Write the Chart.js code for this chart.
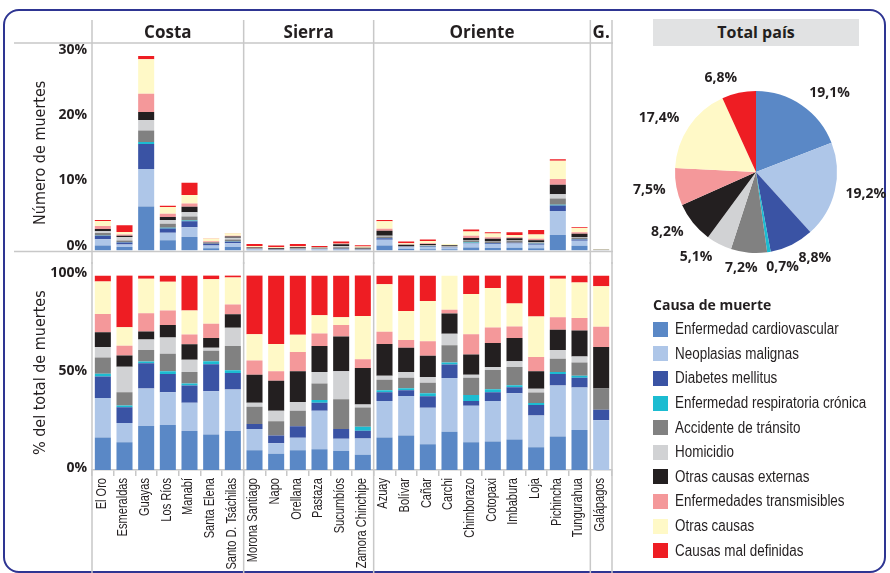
<!DOCTYPE html>
<html>
<head>
<meta charset="utf-8">
<script src="https://cdn.jsdelivr.net/npm/chart.js@4.4.1/dist/chart.umd.min.js"></script>
<style>
  html, body { margin: 0; padding: 0; background: #fff; }
  body { width: 890px; height: 573px; position: relative; overflow: hidden; font-family: 'Open Sans', sans-serif; color: #231f20; }
  #frame { position: absolute; left: 3px; top: 9px; width: 879px; height: 560px; border: 2px solid #2e3592; border-radius: 16px; }
  #topWrap { position: absolute; left: 10px; top: 14px; width: 610px; height: 250px; }
  #botWrap { position: absolute; left: 10px; top: 262px; width: 610px; height: 311px; }
  #pieWrap { position: absolute; left: 625px; top: 50px; width: 265px; height: 244px; }
  #pieHead { position: absolute; left: 653px; top: 19px; width: 206px; height: 27px; background: #e1e2e3; font-weight: 700; font-size: 16px; text-align: center; line-height: 27px; }
  #legend { position: absolute; left: 653px; top: 293px; width: 235px; }
  #legend .ttl { height: 24px; line-height: 24px; font-weight: 700; font-size: 14px; }
  #legend .it { height: 24.6px; display: flex; align-items: center; white-space: nowrap; }
  #legend .sw { width: 15px; height: 15px; margin-right: 7px; flex: none; }
  #legend .tx { display: inline-block; font-family: 'Liberation Sans', Arial, sans-serif; font-size: 16px; transform: scaleX(0.84); transform-origin: left center; }
</style>
</head>
<body>
<div id="frame"></div>
<div id="topWrap"><canvas id="topChart"></canvas></div>
<div id="botWrap"><canvas id="botChart"></canvas></div>
<div id="pieHead">Total país</div>
<div id="pieWrap"><canvas id="pieChart"></canvas></div>
<div id="legend"></div>
<script>
// ---------- DATA ----------
const categories = ['El Oro','Esmeraldas','Guayas','Los Ríos','Manabí','Santa Elena','Santo D. Tsáchilas',
  'Morona Santiago','Napo','Orellana','Pastaza','Sucumbíos','Zamora Chinchipe',
  'Azuay','Bolívar','Cañar','Carchi','Chimborazo','Cotopaxi','Imbabura','Loja','Pichincha','Tungurahua',
  'Galápagos'];
const regionNames = ['Costa','Sierra','Oriente','G.'];
const regionSizes = [7, 6, 10, 1];

// share of national deaths per province (%)
const provinceTotals = [4.7, 3.9, 29.85, 6.9, 10.4, 1.9, 2.7,
  1.0, 0.8, 1.0, 0.7, 1.4, 0.8,
  4.7, 1.4, 1.7, 1.0, 3.25, 2.8, 2.8, 3.15, 14.0, 3.6,
  0.2];

const causes = ['Enfermedad cardiovascular','Neoplasias malignas','Diabetes mellitus','Enfermedad respiratoria crónica',
  'Accidente de tránsito','Homicidio','Otras causas externas','Enfermedades transmisibles','Otras causas','Causas mal definidas'];
const causeColors = ['#5a88c6','#aec6e8','#3a53a4','#1cbcd1','#818181','#d1d2d4','#231f20','#f4989a','#fff9c7','#ee1d23'];

// composition of deaths within each province (% of province total)
const cardiovascular = [16.7,14.2,22.6,23.1,20.1,18.2,20.1, 10.2,8.3,10.2,10.7,9.7,7.8, 16.7,17.7,13.2,19.6,14.2,14.7,15.7,11.7,17.2,20.6, 0];
const neoplasias     = [20.3,9.9,19.3,16.8,14.4,22.3,21.3, 10.9,5.4,6.4,19.8,6.4,8.4, 18.8,20.3,18.8,27.7,18.8,20.8,23.8,16.3,26.2,21.8, 25.6];
const diabetes       = [11.1,8.1,12.9,9.4,8.9,13.9,8.4, 2.5,4.0,5.9,4.0,5.0,4.0, 4.5,3.0,5.9,6.9,2.5,4.5,3.0,5.4,5.9,5.0, 5.4];
const respiratoria   = [1.3,1.0,1.0,1.5,1.0,1.5,1.5, 0,0,0,1.5,0,2.0, 1.0,1.0,1.5,1.0,3.0,1.5,1.0,1.0,1.0,1.0, 0];
const transito       = [8.4,6.8,5.9,8.9,5.9,5.4,12.4, 8.9,7.4,7.9,8.4,15.3,9.9, 5.4,5.4,5.4,8.9,8.9,9.9,9.4,5.4,6.9,6.9, 10.9];
const homicidio      = [5.4,13.0,5.4,8.4,6.4,1.5,9.4, 2.0,5.4,4.5,5.9,14.4,1.5, 2.0,3.0,3.0,5.9,1.5,1.5,3.0,2.0,4.5,3.0, 0];
const externas       = [7.6,5.8,4.1,6.4,7.9,5.0,6.9, 14.4,15.3,15.8,13.4,17.8,18.8, 16.3,12.4,10.9,10.4,10.4,12.4,11.9,8.9,10.4,13.4, 21.3];
const transmisibles  = [9.4,5.0,9.4,7.4,5.0,7.4,5.0, 7.4,5.0,9.9,6.4,5.9,4.5, 6.4,4.0,7.4,2.0,10.4,7.9,5.9,7.4,6.4,6.4, 10.4];
const otrasCausas    = [16.7,9.6,17.7,14.9,12.4,22.8,13.9, 13.4,13.9,8.9,9.4,4.0,22.3, 24.3,14.9,20.8,17.5,20.8,20.3,11.9,20.8,19.8,18.3, 20.8];
const malDefinidas   = [3.1,26.7,1.7,3.1,18.0,2.1,1.2, 30.4,35.3,30.4,20.5,21.5,21.0, 4.6,18.5,13.0,0,9.6,6.6,14.5,21.0,1.7,3.6, 5.6];

// national total (pie)
const pieValues = [19.1, 19.2, 8.8, 0.7, 7.2, 5.1, 8.2, 7.5, 17.4, 6.8];

const composition = [cardiovascular, neoplasias, diabetes, respiratoria, transito, homicidio, externas, transmisibles, otrasCausas, malDefinidas];

// ---------- STYLE ----------
const TXT = '#231f20';
const LINE = '#c8c8c8';
const NARROW = "'Liberation Sans Narrow', 'DejaVu Sans Condensed', 'Open Sans', sans-serif";
const OPEN = "'Open Sans', sans-serif";

function regionBounds(chart) {
  const x = chart.scales.x;
  const step = x.getPixelForValue(1) - x.getPixelForValue(0);
  const b = [x.getPixelForValue(0) - step / 2];
  let idx = 0;
  regionSizes.forEach(n => { idx += n; b.push(x.getPixelForValue(idx - 1) + step / 2); });
  return b;
}

const topDecor = {
  id: 'topDecor',
  afterDraw(chart) {
    const ctx = chart.ctx, b = regionBounds(chart);
    const right = b[b.length - 1] + 1;
    const yBase = chart.scales.y.getPixelForValue(0) + 1;
    ctx.save();
    ctx.strokeStyle = LINE; ctx.lineWidth = 1.5;
    ctx.beginPath();
    ctx.moveTo(4, 29); ctx.lineTo(right, 29);
    ctx.moveTo(4, yBase); ctx.lineTo(right, yBase);
    b.forEach(px => { ctx.moveTo(px, 6); ctx.lineTo(px, chart.height); });
    ctx.stroke();
    ctx.fillStyle = TXT; ctx.font = 'bold 17px ' + OPEN;
    ctx.textAlign = 'center'; ctx.textBaseline = 'middle';
    regionNames.forEach((n, i) => ctx.fillText(n, (b[i] + b[i + 1]) / 2, 19));
    ctx.restore();
  }
};
const botDecor = {
  id: 'botDecor',
  afterDraw(chart) {
    const ctx = chart.ctx, b = regionBounds(chart), x = chart.scales.x;
    ctx.save();
    ctx.strokeStyle = LINE; ctx.lineWidth = 1.5;
    ctx.beginPath();
    b.forEach(px => { ctx.moveTo(px, 0); ctx.lineTo(px, chart.height); });
    ctx.stroke();
    // condensed, rotated category labels
    ctx.fillStyle = TXT; ctx.font = "14px 'Liberation Sans', Arial, sans-serif";
    ctx.textAlign = 'right'; ctx.textBaseline = 'middle';
    const yTop = x.top + 8;
    categories.forEach((c, i) => {
      ctx.save();
      ctx.translate(x.getPixelForValue(i) - 1, yTop);
      ctx.rotate(-Math.PI / 2);
      ctx.scale(0.79, 1);
      ctx.fillText(c, 0, 0);
      ctx.restore();
    });
    ctx.restore();
  }
};

function yAxis(max, step, title, labelOffset) {
  return {
    stacked: true, min: 0, max: max,
    afterFit(scale) { scale.width = 82; },
    grid: { display: false, drawTicks: false },
    border: { display: false },
    ticks: { stepSize: step, padding: 5, labelOffset: labelOffset, color: TXT,
      font: { family: OPEN, size: 14, weight: 'bold' }, callback: v => v + '%' },
    title: { display: true, text: title, color: TXT, padding: { top: 21, bottom: 0 },
      font: { family: NARROW, size: 16 } }
  };
}

const common = {
  responsive: true, maintainAspectRatio: false, animation: false,
  plugins: { legend: { display: false }, tooltip: { enabled: false } }
};

// top chart: share of national deaths
new Chart(document.getElementById('topChart'), {
  type: 'bar',
  data: {
    labels: categories,
    datasets: causes.map((c, k) => ({
      label: c,
      data: composition[k].map((p, i) => provinceTotals[i] * p / 100),
      backgroundColor: causeColors[k], borderWidth: 0,
      barPercentage: 0.74, categoryPercentage: 1
    }))
  },
  options: Object.assign({}, common, {
    layout: { padding: { top: 41, bottom: 6, left: 0, right: 8 } },
    scales: {
      x: { stacked: true, display: false },
      y: yAxis(30, 10, 'Número de muertes', -5)
    }
  }),
  plugins: [topDecor]
});

// bottom chart: composition
new Chart(document.getElementById('botChart'), {
  type: 'bar',
  data: {
    labels: categories,
    datasets: causes.map((c, k) => ({
      label: c, data: composition[k],
      backgroundColor: causeColors[k], borderWidth: 0,
      barPercentage: 0.74, categoryPercentage: 1
    }))
  },
  options: Object.assign({}, common, {
    layout: { padding: { top: 6, bottom: 0, left: 0, right: 8 } },
    scales: {
      x: {
        stacked: true,
        afterFit(scale) { scale.height = 103; },
        grid: { display: true, drawOnChartArea: false, drawTicks: true, tickLength: 6, color: LINE, lineWidth: 1.5 },
        border: { display: true, color: LINE, width: 1.5 },
        ticks: { display: false, autoSkip: false }
      },
      y: yAxis(100, 50, '% del total de muertes', -2)
    }
  }),
  plugins: [botDecor]
});

// pie chart
const pieLabels = {
  id: 'pieLabels',
  afterDatasetsDraw(chart) {
    const ctx = chart.ctx;
    const meta = chart.getDatasetMeta(0);
    ctx.save();
    ctx.fillStyle = TXT; ctx.font = 'bold 14px ' + OPEN;
    ctx.textAlign = 'center'; ctx.textBaseline = 'middle';
    meta.data.forEach((arc, i) => {
      const mid = (arc.startAngle + arc.endAngle) / 2;
      const dx = Math.cos(mid), dy = Math.sin(mid);
      const txt = pieValues[i].toFixed(1).replace('.', ',') + '%';
      const w = ctx.measureText(txt).width, h = 14;
      const r = arc.outerRadius + 8;
      const shiftX = Math.sign(dx) * (w / 2 + 3) * Math.min(1, Math.abs(dx) * 4);
      ctx.fillText(txt, arc.x + dx * r + shiftX, arc.y + dy * r + dy * h / 2);
    });
    ctx.restore();
  }
};
new Chart(document.getElementById('pieChart'), {
  type: 'pie',
  data: { labels: causes, datasets: [{ data: pieValues, backgroundColor: causeColors, borderWidth: 0 }] },
  options: Object.assign({}, common, {
    layout: { padding: { left: 50, right: 53, top: 41, bottom: 41 } }
  }),
  plugins: [pieLabels]
});

// legend
const lg = document.getElementById('legend');
const t = document.createElement('div'); t.className = 'ttl'; t.textContent = 'Causa de muerte'; lg.appendChild(t);
causes.forEach((c, k) => {
  const row = document.createElement('div'); row.className = 'it';
  const sw = document.createElement('span'); sw.className = 'sw'; sw.style.background = causeColors[k];
  const tx = document.createElement('span'); tx.className = 'tx'; tx.textContent = c;
  row.appendChild(sw); row.appendChild(tx); lg.appendChild(row);
});
</script>
</body>
</html>
